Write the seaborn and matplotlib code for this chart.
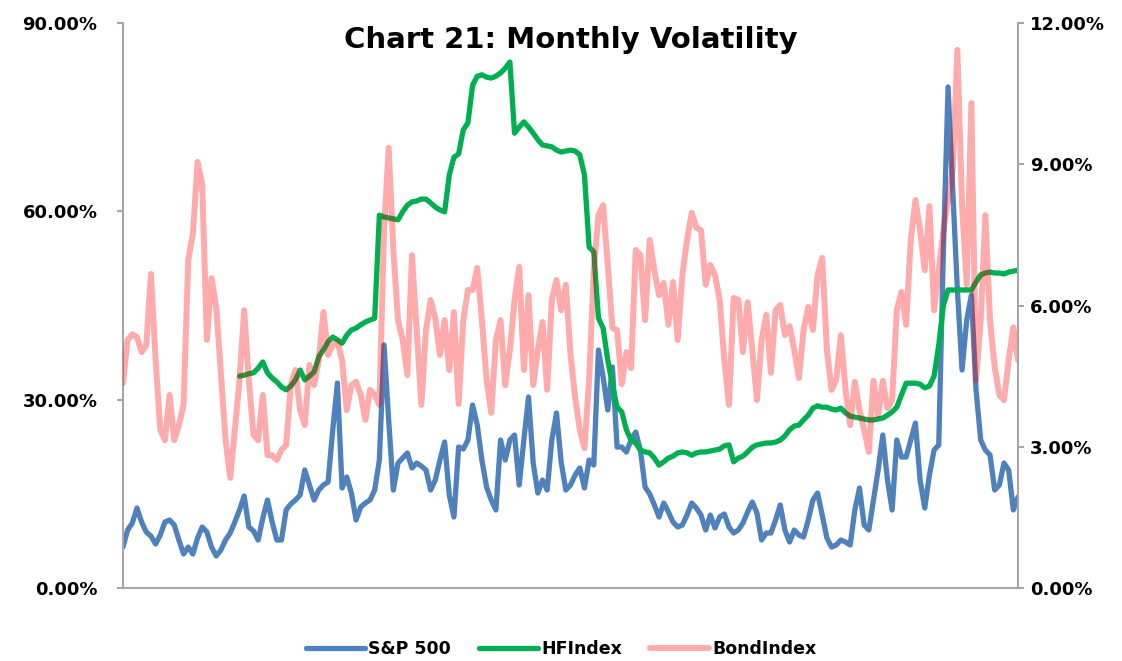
import numpy as np
import pandas as pd
import matplotlib
matplotlib.use("Agg")
import matplotlib.pyplot as plt
import seaborn as sns

# ---- data (monthly, in %) ----
sp500 = [6.53, 9.24, 10.35, 12.74, 10.51, 8.92, 8.28, 7.01, 8.44, 10.51,
         10.83, 10.04, 7.65, 5.42, 6.53, 5.42, 7.97, 9.72, 8.92, 6.53,
         5.10, 6.05, 7.65, 8.76, 10.51, 12.43, 14.66, 9.72, 9.08, 7.65,
         11.15, 14.02, 10.51, 7.65, 7.65, 12.43, 13.38, 14.02, 14.81, 18.80,
         16.41, 14.02, 15.61, 16.41, 16.89, 25.17, 32.66, 15.93, 17.68, 15.13,
         10.83, 12.90, 13.54, 14.02, 15.61, 20.39, 38.71, 26.76, 15.61, 19.91,
         20.71, 21.51, 19.12, 19.91, 19.43, 18.80, 15.61, 17.20, 20.39, 23.26,
         14.81, 11.31, 22.46, 22.14, 23.58, 29.15, 25.97, 20.39, 16.09, 14.02,
         12.43, 23.58, 20.39, 23.58, 24.37, 16.41, 23.58, 30.43, 19.91, 15.13,
         17.20, 15.61, 23.58, 27.88, 20.07, 15.61, 16.41, 18.00, 19.12, 15.93,
         20.39, 19.59, 37.91, 33.61, 28.36, 35.21, 22.46, 22.46, 21.66, 23.58,
         24.85, 21.98, 16.09, 14.97, 13.22, 11.31, 13.54, 12.11, 10.51, 9.72,
         10.04, 11.63, 13.54, 12.74, 11.63, 9.24, 11.63, 9.56, 11.31, 11.79,
         9.72, 8.76, 9.24, 10.35, 12.11, 13.70, 11.95, 7.65, 8.76, 8.76,
         10.83, 13.22, 9.24, 7.33, 9.24, 8.44, 8.12, 10.83, 14.02, 15.13,
         11.63, 7.97, 6.53, 6.85, 7.65, 7.33, 6.85, 12.43, 15.93, 10.04,
         9.24, 14.02, 18.80, 24.37, 17.20, 12.43, 23.58, 20.87, 20.87, 23.58,
         26.28, 17.20, 12.74, 18.00, 21.98, 22.78, 53.84, 79.81, 63.40, 47.47,
         34.73, 42.69, 46.67, 31.54, 23.58, 21.98, 21.19, 15.61, 16.41, 19.91,
         18.80, 12.43, 14.50]

hf_start = 25
hfindex = [4.50, 4.52, 4.55, 4.57, 4.67, 4.80, 4.57, 4.46, 4.38, 4.27,
           4.21, 4.29, 4.42, 4.63, 4.42, 4.50, 4.59, 4.91, 5.06, 5.23,
           5.33, 5.27, 5.20, 5.37, 5.48, 5.52, 5.59, 5.65, 5.69, 5.73,
           7.92, 7.88, 7.86, 7.84, 7.82, 7.99, 8.13, 8.20, 8.22, 8.26,
           8.26, 8.18, 8.09, 8.03, 7.99, 8.77, 9.15, 9.22, 9.73, 9.88,
           10.68, 10.87, 10.90, 10.85, 10.83, 10.87, 10.94, 11.04, 11.17, 9.66,
           9.79, 9.90, 9.79, 9.66, 9.52, 9.41, 9.39, 9.37, 9.30, 9.26,
           9.28, 9.30, 9.28, 9.20, 8.77, 7.24, 7.14, 5.73, 5.52, 4.84,
           4.31, 3.84, 3.74, 3.36, 3.14, 3.08, 2.93, 2.89, 2.87, 2.76,
           2.61, 2.68, 2.76, 2.80, 2.87, 2.89, 2.87, 2.82, 2.87, 2.89,
           2.89, 2.91, 2.93, 2.95, 3.02, 3.04, 2.68, 2.76, 2.80, 2.89,
           2.99, 3.04, 3.06, 3.08, 3.08, 3.10, 3.14, 3.23, 3.36, 3.44,
           3.46, 3.57, 3.67, 3.82, 3.87, 3.84, 3.84, 3.80, 3.78, 3.82,
           3.72, 3.65, 3.63, 3.61, 3.59, 3.57, 3.57, 3.59, 3.61, 3.67,
           3.74, 3.84, 4.10, 4.35, 4.35, 4.35, 4.33, 4.25, 4.29, 4.50,
           5.16, 6.01, 6.33, 6.33, 6.33, 6.33, 6.33, 6.33, 6.50, 6.65,
           6.69, 6.71, 6.69, 6.69, 6.67, 6.71, 6.73, 6.75]

bondindex = [4.35, 5.27, 5.39, 5.33, 5.01, 5.16, 6.67, 4.84, 3.36, 3.14,
             4.10, 3.14, 3.46, 3.89, 6.97, 7.52, 9.05, 8.56, 5.27, 6.58,
             5.97, 4.57, 3.16, 2.34, 3.36, 4.42, 5.90, 4.42, 3.25, 3.14,
             4.10, 2.82, 2.82, 2.72, 2.93, 3.04, 4.31, 4.63, 3.78, 3.46,
             4.74, 4.31, 4.84, 5.86, 4.95, 5.16, 5.23, 4.84, 3.78, 4.31,
             4.38, 4.10, 3.57, 4.21, 4.10, 3.89, 7.60, 9.35, 7.18, 5.69,
             5.27, 4.52, 7.07, 5.48, 3.89, 5.48, 6.12, 5.73, 4.95, 5.69,
             4.63, 5.86, 3.91, 5.69, 6.33, 6.33, 6.80, 5.69, 4.42, 3.72,
             5.27, 5.69, 4.31, 5.06, 6.12, 6.82, 4.63, 6.22, 4.31, 5.06,
             5.65, 4.21, 6.12, 6.54, 5.90, 6.44, 4.97, 4.04, 3.36, 2.97,
             4.42, 6.75, 7.92, 8.13, 6.86, 5.52, 5.48, 4.33, 5.01, 4.67,
             7.18, 7.07, 5.69, 7.39, 6.75, 6.22, 6.48, 5.59, 6.50, 5.27,
             6.65, 7.39, 7.97, 7.65, 7.60, 6.44, 6.86, 6.65, 6.12, 4.84,
             3.89, 6.16, 6.12, 5.01, 6.07, 5.06, 3.99, 5.27, 5.80, 4.57,
             5.90, 6.01, 5.37, 5.56, 5.06, 4.46, 5.48, 5.97, 5.48, 6.65,
             7.01, 5.06, 4.21, 4.42, 5.37, 4.21, 3.46, 4.38, 3.78, 3.36,
             2.89, 4.40, 3.67, 4.40, 3.82, 3.99, 5.90, 6.29, 5.59, 7.39,
             8.24, 7.60, 6.75, 8.11, 5.90, 6.75, 7.60, 8.24, 8.88, 11.43,
             8.13, 6.44, 10.30, 4.42, 5.69, 7.92, 5.69, 4.69, 4.10, 3.99,
             4.84, 5.54, 4.84]

left_ticks = [0, 30, 60, 90]
right_ticks = [0, 3, 6, 9, 12]
title = "Chart 21: Monthly Volatility"
names = ["S&P 500", "HFIndex", "BondIndex"]

assert len(sp500) == 193 and len(bondindex) == 193 and len(hfindex) == 193 - hf_start

months = np.arange(len(sp500))
hf_months = np.arange(hf_start, hf_start + len(hfindex))

sns.set_style("white")
plt.rcParams['font.family'] = ['DejaVu Sans']
plt.rcParams['text.color'] = 'black'
plt.rcParams['xtick.color'] = 'black'
plt.rcParams['ytick.color'] = 'black'

fig = plt.figure(figsize=(11.22, 6.61), dpi=100)
ax = fig.add_axes([0.1096, 0.1104, 0.7977, 0.8548])
ax2 = ax.twinx()

sns.lineplot(x=months, y=sp500, ax=ax, color="#4F81BD", linewidth=3.8, label=names[0], legend=False)
sns.lineplot(x=hf_months, y=hfindex, ax=ax2, color="#00B050", linewidth=3.8, label=names[1], legend=False)
sns.lineplot(x=months, y=bondindex, ax=ax2, color="#FF0000", alpha=0.33, linewidth=4.3, label=names[2], legend=False)

ax.set_xlim(0, len(sp500) - 1)
ax.set_ylim(0, 90)
ax2.set_ylim(0, 12)
ax.set_yticks(left_ticks)
ax2.set_yticks(right_ticks)
ax.set_yticklabels([f"{v:.2f}%" for v in left_ticks], fontsize=13, fontweight="bold")
ax2.set_yticklabels([f"{v:.2f}%" for v in right_ticks], fontsize=13, fontweight="bold")
ax.set_xticks([])
ax.set_xlabel("")
ax.set_ylabel("")
ax2.set_ylabel("")

gray = "#A6A6A6"
for a in (ax, ax2):
    for s in a.spines.values():
        s.set_visible(False)
ax.spines["left"].set_visible(True)
ax.spines["bottom"].set_visible(True)
ax2.spines["right"].set_visible(True)
for s in (ax.spines["left"], ax.spines["bottom"], ax2.spines["right"]):
    s.set_color(gray)
    s.set_linewidth(1.5)
ax.tick_params(axis="y", left=True, length=4.3, width=1.5, color=gray, labelcolor="black", pad=14)
ax2.tick_params(axis="y", right=True, length=4.3, width=1.5, color=gray, labelcolor="black", pad=4.5)

ax.text(0.5, 0.970, title, transform=ax.transAxes, ha="center", va="center",
        fontsize=21, fontweight="bold", color="black")

handles = ax.get_lines()[:1] + ax2.get_lines()[:2]
leg = fig.legend(handles, names, loc="center", bbox_to_anchor=(0.5, 0.018), ncol=3,
                 frameon=False, prop={"weight": "bold", "size": 12.5},
                 handlelength=3.4, columnspacing=1.6, handletextpad=0.2)
for t in leg.get_texts():
    t.set_color("black")

fig.savefig("out.png", dpi=100)
